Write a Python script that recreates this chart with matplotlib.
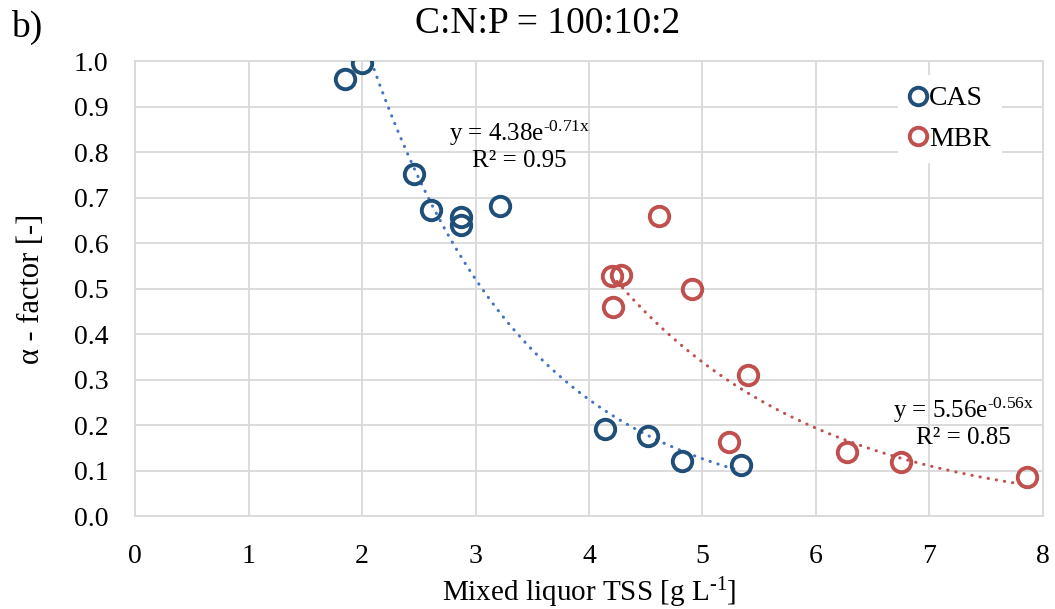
"""
Alpha-factor vs mixed liquor TSS for CAS and MBR, with exponential trendlines.
"""

import numpy as np
from matplotlib import pyplot as plt

plt.rcParams['font.family'] = ['Liberation Serif', 'DejaVu Serif']
plt.rcParams['mathtext.fontset'] = 'custom'
plt.rcParams['mathtext.rm'] = 'Liberation Serif'
plt.rcParams['mathtext.it'] = 'Liberation Serif:italic'

# data
cas_tss = [1.85, 2.00, 2.46, 2.61, 2.87, 2.87, 3.22, 4.14, 4.52, 4.82, 5.34]
cas_alpha = [0.96, 0.995, 0.752, 0.672, 0.658, 0.640, 0.681, 0.192, 0.176, 0.121, 0.112]

mbr_tss = [4.20, 4.28, 4.21, 4.62, 4.91, 5.40, 5.23, 6.27, 6.75, 7.86]
mbr_alpha = [0.527, 0.529, 0.460, 0.659, 0.499, 0.310, 0.163, 0.141, 0.119, 0.085]

# exponential fits as reported on the chart: y = a*exp(b*x)
cas_fit = (4.38, -0.71, 0.95)
mbr_fit = (5.56, -0.56, 0.85)

cas_color = '#1F4E79'
cas_trend = '#4472C4'
mbr_color = '#C0504D'
HY = '\u2010'  # hyphen, so the exponent reads "-0.71x" as in the source


def trend(ax, xs, fit, color):
    a, b, _ = fit
    x = np.linspace(min(xs), max(xs), 200)
    ax.plot(x, a * np.exp(b * x), color=color, lw=2.2,
            linestyle=(0, (0.1, 2.6)), dash_capstyle='round', zorder=2)


fig = plt.figure(figsize=(10.55, 6.09), dpi=100)
ax = fig.add_axes([0.128, 0.1527, 0.8606, 0.7471])

trend(ax, cas_tss, cas_fit, cas_trend)
trend(ax, mbr_tss, mbr_fit, mbr_color)

ax.plot(cas_tss, cas_alpha, 'o', ms=14, mfc='none', mec=cas_color, mew=2.8,
        label='CAS', zorder=3)
ax.plot(mbr_tss, mbr_alpha, 'o', ms=14, mfc='none', mec=mbr_color, mew=2.8,
        label='MBR', zorder=3)

ax.set_xlim(0, 8)
ax.set_ylim(0, 1.0)
ax.set_xticks(range(0, 9))
ax.set_yticks(np.arange(0, 1.01, 0.1))
ax.set_yticklabels([f'{v:.1f}' for v in np.arange(0, 1.01, 0.1)])
ax.tick_params(length=0, labelsize=20, colors='black')
ax.tick_params(axis='y', pad=19)
ax.tick_params(axis='x', pad=20)
ax.grid(True, color='#D9D9D9', lw=1.3)
ax.set_axisbelow(True)
for s in ax.spines.values():
    s.set_color('#D9D9D9')
    s.set_linewidth(1.3)

for x, y, fit in [(3.39, 0.842, cas_fit), (7.30, 0.233, mbr_fit)]:
    a, b, r2 = fit
    ax.text(x, y, f'y = {a:.2f}e$^{{\\mathrm{{{HY}{abs(b):.2f}x}}}}$',
            fontsize=18, ha='center', va='center')
    ax.text(x, y - 0.062, f'R² = {r2:.2f}', fontsize=18, ha='center', va='center')

leg = ax.legend(loc='upper right', bbox_to_anchor=(0.97, 1.0), frameon=True,
                fontsize=20, markerscale=0.9, handlelength=0.6, handletextpad=0.1,
                labelspacing=0.55, borderpad=0.4)
leg.get_frame().set_facecolor('white')
leg.get_frame().set_edgecolor('none')
leg.get_frame().set_alpha(1)

fig.text(0.519, 0.961, 'C:N:P = 100:10:2', fontsize=27, ha='center', va='center')
fig.text(0.010, 0.955, 'b)', fontsize=27, ha='left', va='center')
ax.set_ylabel('α - factor [-]', fontsize=22, labelpad=20)
ax.set_xlabel(f'Mixed liquor TSS [g L$^{{\\mathrm{{{HY}1}}}}$]', fontsize=21, labelpad=5)

fig.savefig('out.png', dpi=100)
